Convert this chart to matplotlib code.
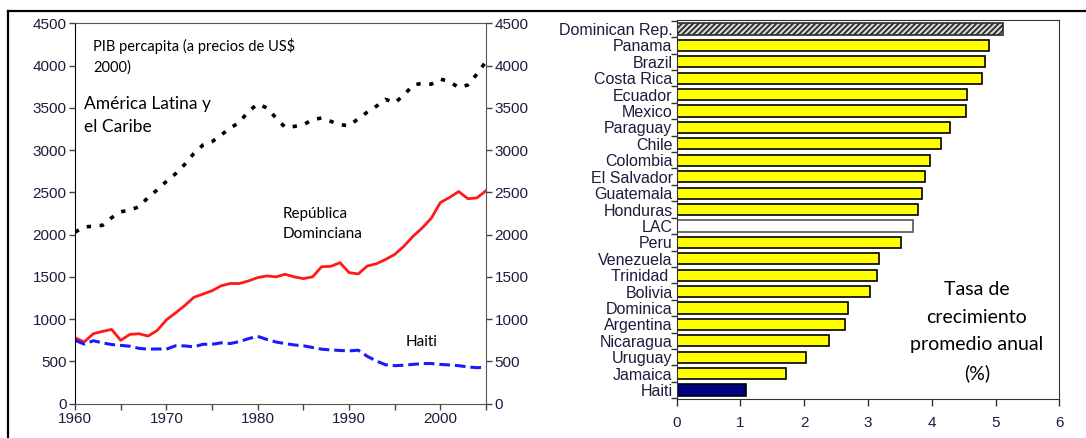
import numpy as np
import matplotlib.pyplot as plt
from matplotlib.lines import Line2D

plt.rcParams['font.family'] = ['Liberation Sans', 'DejaVu Sans']
plt.rcParams['hatch.linewidth'] = 1.3

#Per capita GDP series (US$ 2000)
years = list(range(1960, 2006))
lac_gdp = [2030, 2090, 2100, 2110, 2200, 2270, 2290, 2330, 2440, 2530,
           2630, 2720, 2830, 2960, 3060, 3100, 3180, 3260, 3330, 3460,
           3545, 3500, 3380, 3270, 3280, 3300, 3360, 3380, 3340, 3300,
           3290, 3370, 3450, 3520, 3600, 3560, 3650, 3770, 3790, 3780,
           3840, 3810, 3740, 3770, 3900, 4050]
dr_gdp = [781, 730, 828, 855, 879, 750, 820, 828, 800, 867,
          992, 1074, 1160, 1258, 1297, 1336, 1395, 1422, 1422, 1453,
          1492, 1512, 1500, 1531, 1500, 1480, 1500, 1621, 1625, 1668,
          1551, 1535, 1629, 1656, 1707, 1766, 1863, 1980, 2078, 2195,
          2380, 2440, 2510, 2425, 2435, 2520]
haiti_gdp = [750, 705, 745, 720, 700, 690, 680, 655, 645, 648,
             645, 685, 684, 672, 703, 703, 720, 712, 735, 770,
             797, 760, 730, 711, 695, 685, 665, 645, 636, 630,
             625, 633, 560, 505, 460, 450, 455, 465, 475, 475,
             465, 458, 450, 435, 426, 430]

#Average annual growth rates (%)
countries = ["Dominican Rep.", "Panama", "Brazil", "Costa Rica", "Ecuador",
             "Mexico", "Paraguay", "Chile", "Colombia", "El Salvador",
             "Guatemala", "Honduras", "LAC", "Peru", "Venezuela", "Trinidad ",
             "Bolivia", "Dominica", "Argentina", "Nicaragua", "Uruguay",
             "Jamaica", "Haiti"]
growth = [5.11, 4.89, 4.84, 4.79, 4.56, 4.53, 4.29, 4.14, 3.98, 3.89,
          3.84, 3.78, 3.70, 3.51, 3.17, 3.14, 3.03, 2.69, 2.64, 2.39,
          2.03, 1.72, 1.09]

txt_color = '#1c1c3c'
note_font = ['Lato', 'DejaVu Sans']

fig = plt.figure(figsize=(10.86, 4.38), dpi=100)

#Left panel: GDP per capita lines
ax1 = fig.add_axes([0.0691, 0.0783, 0.3785, 0.8685])
ax1.plot(years, lac_gdp, color='black', lw=2.6, linestyle=(0, (1.2, 2.4)))
ax1.plot(years, dr_gdp, color='#ff1a1a', lw=2.0)
ax1.plot(years, haiti_gdp, color='#1a1aff', lw=2.2, linestyle=(0, (3.5, 1.6)))
ax1.set_xlim(1960, 2005)
ax1.set_ylim(0, 4500)
ax1.set_xticks([1960, 1970, 1980, 1990, 2000])
ax1.set_xticks([1965, 1975, 1985, 1995, 2005], minor=True)
ax1.set_yticks(range(0, 4501, 500))
ax1.tick_params(axis='both', direction='out', length=4, width=1, color='#444444',
                labelsize=11, labelcolor=txt_color, pad=2)
ax1.tick_params(axis='x', which='minor', direction='out', length=4, width=1, color='#444444')
ax1.tick_params(axis='y', right=True, labelright=True)
for side in ['top', 'right', 'bottom']:
    ax1.spines[side].set_color('#555555')
ax1.spines['left'].set_color('black')

fig.text(0.086, 0.871, "PIB percapita (a precios de US$\n2000)", fontsize=10.5,
         family=note_font, va='center', ha='left', linespacing=1.6, color='black')
fig.text(0.077, 0.737, "América Latina y\nel Caribe", fontsize=12.5,
         family=note_font, va='center', ha='left', linespacing=1.55, color='black')
fig.text(0.26, 0.488, "República\nDominciana", fontsize=11,
         family=note_font, va='center', ha='left', linespacing=1.55, color='black')
fig.text(0.3735, 0.219, "Haiti", fontsize=11,
         family=note_font, va='center', ha='left', color='black')

#Right panel: growth rate bars
ax2 = fig.add_axes([0.6231, 0.0890, 0.3523, 0.8653])
pos = np.arange(len(countries))
faces = []
edges = []
for c in countries:
    if c == "Haiti":
        faces.append('#000080')
        edges.append('black')
    elif c == "LAC":
        faces.append('white')
        edges.append('#555555')
    elif c == "Dominican Rep.":
        faces.append('#d8d8d8')
        edges.append('#2a2a2a')
    else:
        faces.append('#ffff00')
        edges.append('black')
bars = ax2.barh(pos, growth, height=0.68, color=faces, edgecolor=edges, linewidth=1.2)
bars[0].set_hatch('//////')

ax2.set_xlim(0, 6)
ax2.set_ylim(len(countries) - 0.45, -0.55)
ax2.set_xticks(range(0, 7))
ax2.set_yticks(pos)
ax2.set_yticklabels(countries)
ax2.set_yticks(np.arange(-0.5, len(countries) + 0.5, 1), minor=True)
ax2.tick_params(axis='y', which='major', length=0, labelsize=11.5, labelcolor=txt_color, pad=3)
ax2.tick_params(axis='y', which='minor', direction='out', length=4, width=1, color='#333333')
ax2.tick_params(axis='x', direction='out', length=5, width=1, color='#333333',
                labelsize=11, labelcolor=txt_color, pad=7)
for side in ax2.spines:
    ax2.spines[side].set_color('#333333')

fig.text(0.8996, 0.242, "Tasa de\ncrecimiento\npromedio anual\n(%)", fontsize=14,
         family=note_font, ha='center', va='center', linespacing=1.75, color='black')

#Outer frame (top and left edges)
fig.add_artist(Line2D([8 / 1086, 1.0], [1 - 10.5 / 438, 1 - 10.5 / 438],
                      transform=fig.transFigure, color='black', lw=1.6))
fig.add_artist(Line2D([8 / 1086, 8 / 1086], [0.0, 1 - 10.5 / 438],
                      transform=fig.transFigure, color='black', lw=1.6))

fig.savefig('out.png', dpi=100)
